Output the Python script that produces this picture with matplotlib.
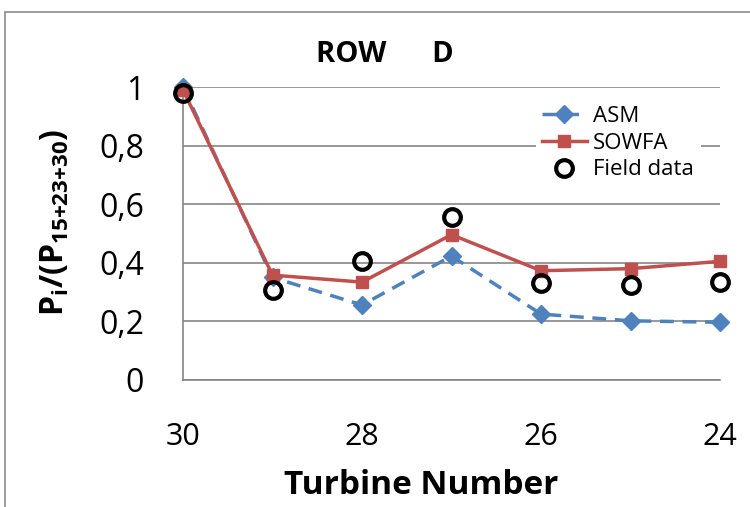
import matplotlib.pyplot as plt
from matplotlib.patches import Rectangle

plt.rcParams['font.family'] = ['Open Sans', 'DejaVu Sans']
plt.rcParams['mathtext.fontset'] = 'custom'
plt.rcParams['mathtext.rm'] = 'Open Sans'
plt.rcParams['mathtext.bf'] = 'Open Sans:bold'

turbines = [30, 29, 28, 27, 26, 25, 24]
asm = [1.0, 0.35, 0.256, 0.423, 0.225, 0.202, 0.197]
sowfa = [0.99, 0.358, 0.334, 0.496, 0.373, 0.38, 0.405]
field = [0.98, 0.307, 0.407, 0.557, 0.33, 0.324, 0.333]
xticks = [30, 28, 26, 24]
yticks = [0, 0.2, 0.4, 0.6, 0.8, 1.0]
ylabels = ['0', '0,2', '0,4', '0,6', '0,8', '1']

fig = plt.figure(figsize=(7.5, 5.07), dpi=100)
fig.patches.append(Rectangle((5/750, -0.1), 1.2, 1 - 12/507 + 0.1, transform=fig.transFigure,
                             fill=False, edgecolor='#8c8c8c', linewidth=1.2))
ax = fig.add_axes([183/750, 1 - 380/507, (720 - 183)/750, (380 - 87)/507])

ax.plot(turbines, asm, color='#4F81BD', linestyle=(0, (4, 2.5)), linewidth=2.5,
        marker='D', markersize=9, label='ASM', clip_on=False, zorder=3)
ax.plot(turbines, sowfa, color='#C0504D', linewidth=2.5,
        marker='s', markersize=9, label='SOWFA', clip_on=False, zorder=4)
ax.plot(turbines, field, linestyle='none', marker='o', markersize=12,
        markerfacecolor='none', markeredgecolor='black', markeredgewidth=3,
        label='Field data', clip_on=False, zorder=5)

ax.set_xlim(30, 24)
ax.set_ylim(0, 1)
ax.set_xticks(xticks)
ax.set_xticklabels([str(t) for t in xticks], fontsize=22)
ax.set_yticks(yticks)
ax.set_yticklabels(ylabels, fontsize=23)
ax.tick_params(axis='x', length=0, pad=30)
ax.tick_params(axis='y', length=0, pad=28)
ax.grid(axis='y', color='#868686', linewidth=1.2)
ax.set_axisbelow(True)
for s in ['top', 'right']:
    ax.spines[s].set_visible(False)
for s in ['left', 'bottom']:
    ax.spines[s].set_color('#868686')
    ax.spines[s].set_linewidth(1.2)

fig.text(385/750, 1 - 55/507, 'ROW      D', fontsize=21, fontweight='bold',
         ha='center', va='center')
fig.text(421/750, 1 - 485/507, 'Turbine Number', fontsize=24, fontweight='bold',
         ha='center', va='center')
fig.text(55/750, 1 - 222/507, r'$\mathbf{P_i/(P_{15{+}23{+}30})}$', fontsize=23,
         rotation=90, ha='center', va='center')

leg = ax.legend(loc='upper right', bbox_to_anchor=(0.985, 0.995), fontsize=16, frameon=True,
                framealpha=1, edgecolor='none', fancybox=False, handlelength=2.0,
                handletextpad=0.3, labelspacing=0.25, borderpad=0.3)

fig.savefig('out.png', dpi=100)
